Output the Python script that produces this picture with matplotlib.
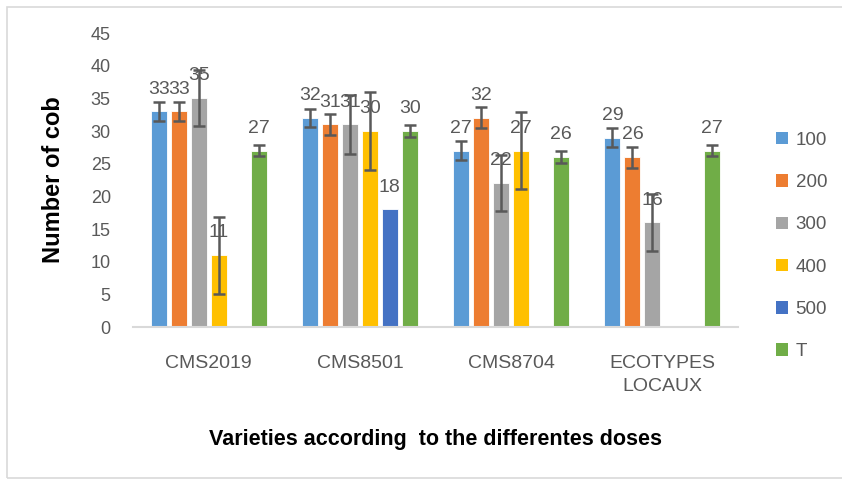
import numpy as np
import matplotlib
matplotlib.use("Agg")
import matplotlib.pyplot as plt
from matplotlib.patches import Patch, Rectangle

plt.rcParams['font.family'] = ['Liberation Sans', 'DejaVu Sans']

categories = ["CMS2019", "CMS8501", "CMS8704", "ECOTYPES\nLOCAUX"]
series_names = ["100", "200", "300", "400", "500", "T"]
s100 = [33, 32, 27, 29]
s200 = [33, 31, 32, 26]
s300 = [35, 31, 22, 16]
s400 = [11, 30, 27, None]
s500 = [None, 18, None, None]
sT = [27, 30, 26, 27]
e100 = [1.4, 1.4, 1.4, 1.4]
e200 = [1.4, 1.55, 1.6, 1.6]
e300 = [4.3, 4.45, 4.3, 4.3]
e400 = [5.9, 5.95, 5.9, None]
e500 = [None, None, None, None]
eT = [0.9, 0.85, 0.9, 0.9]
colors = ["#5B9BD5", "#ED7D31", "#A5A5A5", "#FFC000", "#4472C4", "#70AD47"]

values = [s100, s200, s300, s400, s500, sT]
errors = [e100, e200, e300, e400, e500, eT]

def arr(l):
    return np.array([np.nan if v is None else v for v in l], dtype=float)

fig = plt.figure(figsize=(8.42, 4.8), dpi=100)
fig.patches.append(Rectangle((7/842, 0.005), 2, 1 - 7/480 - 0.005, transform=fig.transFigure,
                             fill=False, edgecolor="#D9D9D9", linewidth=1.2))
ax = fig.add_axes([133/842, (480-327)/480, (738-133)/842, (327-33)/480])

x = np.arange(len(categories))
step = 0.132
width = 0.106
txtc = "#595959"
for i, (name, vals, errs, c) in enumerate(zip(series_names, values, errors, colors)):
    v = arr(vals)
    e = arr(errs)
    pos = x + (i - 2.5) * step
    ax.bar(pos, v, width, color=c, edgecolor="white", linewidth=0.6, label=name, zorder=2)
    m = ~np.isnan(e) & ~np.isnan(v)
    if m.any():
        ax.errorbar(pos[m], v[m], yerr=e[m], fmt="none", ecolor="#595959",
                    elinewidth=1.8, capsize=4, capthick=1.8, zorder=3)
    for p, val in zip(pos, v):
        if not np.isnan(val):
            ax.annotate(f"{int(val)}", (p, val), xytext=(0, 10), textcoords="offset points",
                        ha="center", va="bottom", fontsize=14, color=txtc, zorder=4)

ax.set_xlim(-0.5, 3.5)
ax.set_ylim(0, 45)
ax.set_yticks(np.arange(0, 46, 5))
ax.set_xticks(x)
ax.set_xticklabels(categories, fontsize=14, color=txtc, linespacing=1.45)
ax.tick_params(axis="y", labelsize=13, labelcolor=txtc, length=0, pad=16)
ax.tick_params(axis="x", length=0, pad=20)
for s in ["top", "right", "left"]:
    ax.spines[s].set_visible(False)
ax.spines["bottom"].set_color("#D9D9D9")
ax.spines["bottom"].set_linewidth(1.5)

fig.text(54/842, 1 - 180/480, "Number of cob", rotation=90, ha="center", va="center",
         fontsize=17, fontweight="bold", color="black")
fig.text(435/842, 1 - 440/480, "Varieties according  to the differentes doses",
         ha="center", va="center", fontsize=15.5, fontweight="bold", color="black")

handles = [Patch(facecolor=c, edgecolor="none") for c in colors]
fig.legend(handles, series_names, loc="center left", bbox_to_anchor=(776/842, 1 - 246/480),
           frameon=False, fontsize=13.5, labelcolor=txtc, handlelength=0.65, handleheight=0.65,
           handletextpad=0.4, labelspacing=1.35, borderpad=0, borderaxespad=0)

fig.savefig("out.png", dpi=100)
